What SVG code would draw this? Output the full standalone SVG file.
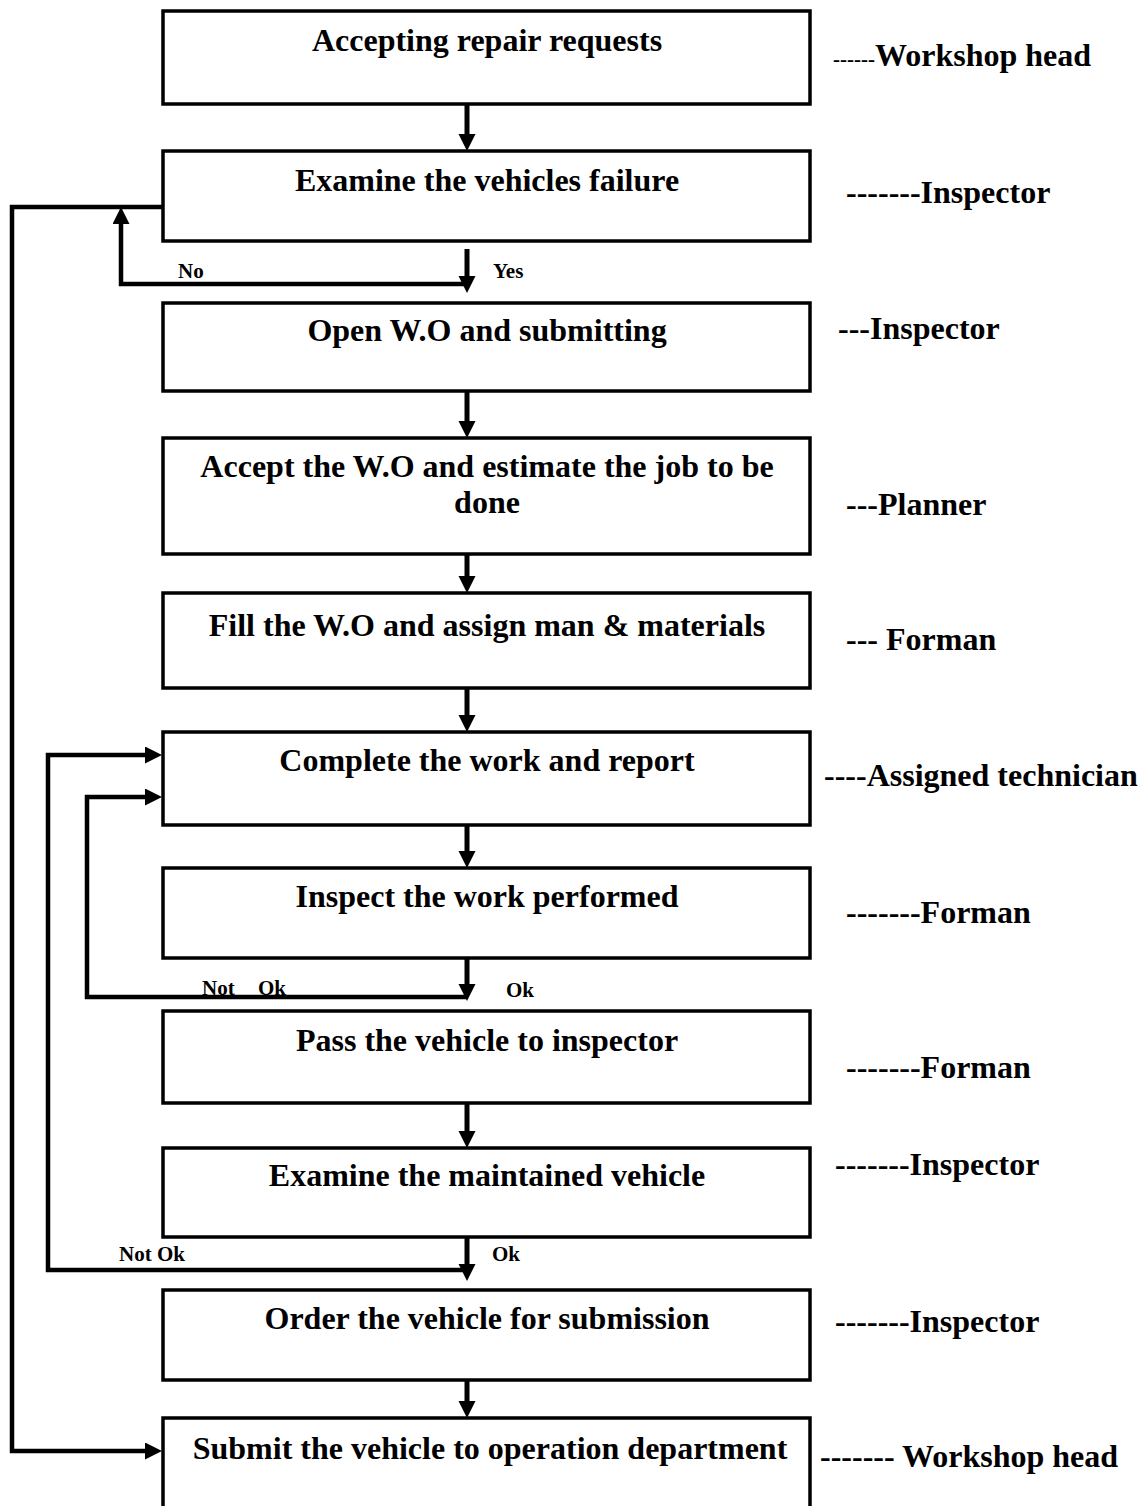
<svg xmlns="http://www.w3.org/2000/svg" width="1143" height="1506" viewBox="0 0 1143 1506">
<style>
.box{fill:#fff;stroke:#000;stroke-width:3.5}
.t{font-family:"Liberation Serif","Times New Roman",serif;font-weight:bold;font-size:32px;fill:#000;text-anchor:middle}
.r{font-family:"Liberation Serif","Times New Roman",serif;font-weight:bold;font-size:32px;fill:#000}
.s{font-family:"Liberation Serif","Times New Roman",serif;font-weight:bold;font-size:21px;fill:#000}
.c{fill:none;stroke:#000;stroke-width:5;stroke-linejoin:miter}
.l{fill:none;stroke:#000;stroke-width:4.5;stroke-linejoin:miter}
</style>
<defs>
<marker id="ah" markerUnits="userSpaceOnUse" markerWidth="18" markerHeight="18" refX="9" refY="8.5" orient="auto">
<path d="M0,0 L17,8.5 L0,17 z" fill="#000"/>
</marker>
</defs>
<rect width="1143" height="1506" fill="#fff"/>
<g id="connectors">
<path class="c" d="M467,104 V143" marker-end="url(#ah)"/>
<path class="c" d="M467,249 V285" marker-end="url(#ah)"/>
<path class="c" d="M467,391 V430" marker-end="url(#ah)"/>
<path class="c" d="M467,554 V585" marker-end="url(#ah)"/>
<path class="c" d="M467,688 V724" marker-end="url(#ah)"/>
<path class="c" d="M467,825 V860" marker-end="url(#ah)"/>
<path class="c" d="M467,958 V993" marker-end="url(#ah)"/>
<path class="c" d="M467,1103 V1140" marker-end="url(#ah)"/>
<path class="c" d="M467,1237 V1273" marker-end="url(#ah)"/>
<path class="c" d="M467,1380 V1410" marker-end="url(#ah)"/>
<path class="l" d="M467,284 H121 V215" marker-end="url(#ah)"/>
<path class="l" d="M163,207 H12 V1451 H154" marker-end="url(#ah)"/>
<path class="l" d="M467,997 H87 V797 H154" marker-end="url(#ah)"/>
<path class="l" d="M467,1270 H48 V755 H154" marker-end="url(#ah)"/>
</g>
<g id="n1"><rect class="box" x="163" y="11" width="647" height="93"/><text class="t" x="487" y="51">Accepting repair requests</text></g>
<g id="n2"><rect class="box" x="163" y="151" width="647" height="90"/><text class="t" x="487" y="191">Examine the vehicles failure</text></g>
<g id="n3"><rect class="box" x="163" y="303" width="647" height="88"/><text class="t" x="487" y="341">Open W.O and submitting</text></g>
<g id="n4"><rect class="box" x="163" y="438" width="647" height="116"/><text class="t" x="487" y="477">Accept the W.O and estimate the job to be</text><text class="t" x="487" y="513">done</text></g>
<g id="n5"><rect class="box" x="163" y="593" width="647" height="95"/><text class="t" x="487" y="636">Fill the W.O and assign man &amp; materials</text></g>
<g id="n6"><rect class="box" x="163" y="732" width="647" height="93"/><text class="t" x="487" y="771">Complete the work and report</text></g>
<g id="n7"><rect class="box" x="163" y="868" width="647" height="90"/><text class="t" x="487" y="907">Inspect the work performed</text></g>
<g id="n8"><rect class="box" x="163" y="1011" width="647" height="92"/><text class="t" x="487" y="1051">Pass the vehicle to inspector</text></g>
<g id="n9"><rect class="box" x="163" y="1148" width="647" height="89"/><text class="t" x="487" y="1186">Examine the maintained vehicle</text></g>
<g id="n10"><rect class="box" x="163" y="1290" width="647" height="90"/><text class="t" x="487" y="1329">Order the vehicle for submission</text></g>
<g id="n11"><rect class="box" x="163" y="1418" width="647" height="100"/><text class="t" x="490" y="1459">Submit the vehicle to operation department</text></g>
<g id="roles">
<text class="r" x="833" y="66"><tspan font-size="21">------</tspan>Workshop head</text>
<text class="r" x="846" y="203">-------Inspector</text>
<text class="r" x="838" y="339">---Inspector</text>
<text class="r" x="846" y="515">---Planner</text>
<text class="r" x="846" y="650">--- Forman</text>
<text class="r" x="824" y="786">----Assigned technician</text>
<text class="r" x="846" y="923">-------Forman</text>
<text class="r" x="846" y="1078">-------Forman</text>
<text class="r" x="835" y="1175">-------Inspector</text>
<text class="r" x="835" y="1332">-------Inspector</text>
<text class="r" x="820" y="1467">------- Workshop head</text>
</g>
<g id="labels">
<text class="s" x="178" y="278">No</text>
<text class="s" x="493" y="278">Yes</text>
<text class="s" x="202" y="995">Not<tspan x="258">Ok</tspan></text>
<text class="s" x="506" y="997">Ok</text>
<text class="s" x="119" y="1261">Not Ok</text>
<text class="s" x="492" y="1261">Ok</text>
</g>
</svg>
